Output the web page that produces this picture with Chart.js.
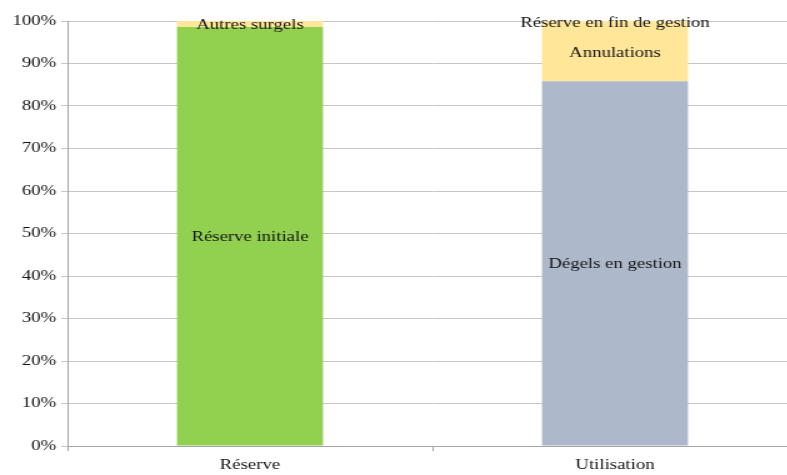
<!DOCTYPE html>
<html lang="fr">
<head>
<meta charset="utf-8">
<title>Réserve et utilisation</title>
<script src="https://cdn.jsdelivr.net/npm/chart.js@4/dist/chart.umd.min.js"></script>
<style>
  html, body { margin: 0; padding: 0; background: #fff; overflow: hidden; }
  /* le graphique est étiré horizontalement, comme l'original */
  #wrap { width: 640px; height: 475px; transform: scaleX(1.25); transform-origin: 0 0; }
</style>
</head>
<body>
<div id="wrap"><canvas id="chart" width="640" height="475"></canvas></div>
<script>
// Répartition en % de la réserve et de son utilisation
const categories = ['Réserve', 'Utilisation'];
const reserveInitiale = [98.6, 0];
const autresSurgels = [1.4, 0];
const degelsEnGestion = [0, 85.8];
const annulations = [0, 13.9];
const reserveFinGestion = [0, 0.3];
const yTicks = [0, 10, 20, 30, 40, 50, 60, 70, 80, 90, 100];

const FONT = '"Liberation Serif", "Times New Roman", serif';
const INK = '#151515';
const GREEN = '#92d050';
const YELLOW = '#ffe699';
const GREY = '#adb9ca';

// libellé de chaque série écrit au centre de son segment
const segmentLabels = {
  id: 'segmentLabels',
  afterDatasetsDraw(chart) {
    const ctx = chart.ctx;
    ctx.save();
    ctx.font = '15px ' + FONT;
    ctx.fillStyle = INK;
    ctx.textAlign = 'center';
    ctx.textBaseline = 'middle';
    chart.data.datasets.forEach((ds, i) => {
      chart.getDatasetMeta(i).data.forEach((bar, j) => {
        if (!ds.data[j]) return;
        const p = bar.getProps(['x', 'y', 'base'], true);
        ctx.fillText(ds.label, p.x, (p.y + p.base) / 2 + 1);
      });
    });
    ctx.restore();
  }
};

const mk = (label, data, color) => ({
  label, data, backgroundColor: color, borderWidth: 0,
  barPercentage: 0.4, categoryPercentage: 1
});

new Chart(document.getElementById('chart'), {
  type: 'bar',
  data: {
    labels: categories,
    datasets: [
      mk('Réserve initiale', reserveInitiale, GREEN),
      mk('Autres surgels', autresSurgels, YELLOW),
      mk('Dégels en gestion', degelsEnGestion, GREY),
      mk('Annulations', annulations, YELLOW),
      mk('Réserve en fin de gestion', reserveFinGestion, YELLOW)
    ]
  },
  options: {
    responsive: false,
    animation: false,
    layout: { padding: { top: 21, right: 2, left: 0, bottom: 0 } },
    plugins: { legend: { display: false }, tooltip: { enabled: false } },
    scales: {
      x: {
        stacked: true,
        grid: { offset: true, drawOnChartArea: false, color: '#a6a6a6', tickLength: 5 },
        border: { color: '#a6a6a6' },
        ticks: { color: INK, font: { family: FONT, size: 15 }, padding: 5 },
        afterFit: s => { s.height = 29; }
      },
      y: {
        stacked: true,
        min: 0, max: 100,
        afterBuildTicks: s => { s.ticks = yTicks.map(v => ({ value: v })); },
        grid: { color: '#c6c6c6', tickLength: 5 },
        border: { color: '#a6a6a6' },
        ticks: {
          color: INK, font: { family: FONT, size: 15 }, padding: 4,
          callback: v => v + '%'
        },
        afterFit: s => { s.width = 54; }
      }
    }
  },
  plugins: [segmentLabels]
});
</script>
</body>
</html>
